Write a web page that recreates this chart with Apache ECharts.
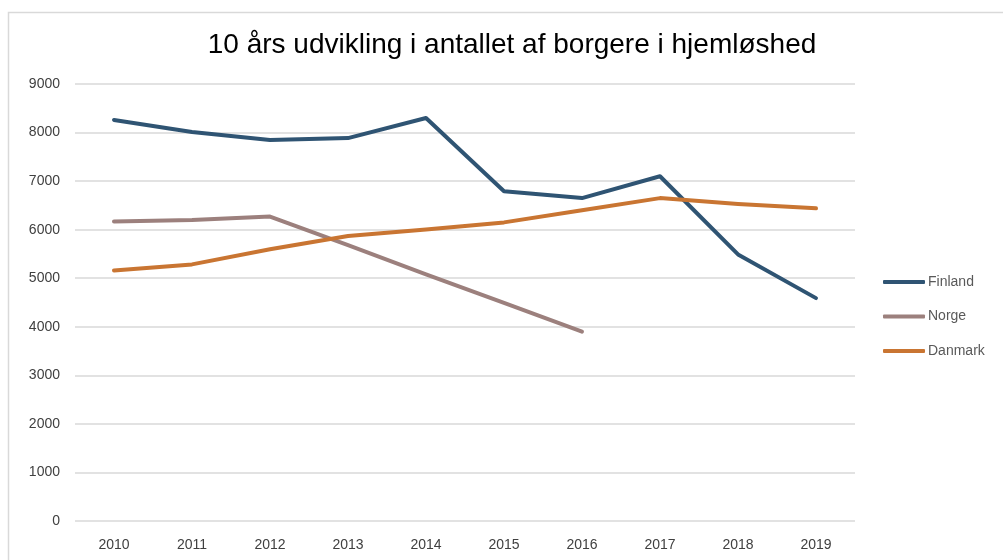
<!DOCTYPE html>
<html><head><meta charset="utf-8">
<script src="https://cdn.jsdelivr.net/npm/echarts@6/dist/echarts.min.js"></script>
<style>html,body{margin:0;padding:0;background:#fff}#c{width:1003px;height:560px}</style>
</head><body><div id="c"></div>
<script>
const titleText = '10 års udvikling i antallet af borgere i hjemløshed';
const years = ['2010','2011','2012','2013','2014','2015','2016','2017','2018','2019'];
const finland = [8260, 8010, 7845, 7886, 8300, 6790, 6650, 7100, 5490, 4590];
const norge   = [6170, 6200, 6270, 5680, 5080, 4490, 3900, null, null, null];
const danmark = [5160, 5285, 5595, 5870, 6005, 6150, 6400, 6650, 6530, 6440];
const yTicks = {min: 0, max: 9000, interval: 1000};

const chart = echarts.init(document.getElementById('c'), null, {renderer: 'canvas'});
const mk = (name, data, color) => ({
  name, type: 'line', data, symbol: 'none', smooth: false,
  lineStyle: {width: 4, color, cap: 'round', join: 'round'},
  itemStyle: {color}
});
chart.setOption({
  animation: false,
  backgroundColor: '#fff',
  graphic: [
    {type: 'rect', shape: {x: 8.5, y: 12.5, width: 1100, height: 600},
      style: {fill: 'none', stroke: '#d9d9d9', lineWidth: 1.5}, silent: true, z: -1},
    {type: 'text', x: 512, y: 45, style: {text: titleText, align: 'center', verticalAlign: 'middle',
      font: 'normal 28px "Liberation Sans", Arial, sans-serif', fill: '#000'}}
  ],
  grid: {left: 75, right: 148, top: 84, bottom: 39, containLabel: false},
  legend: {orient: 'vertical', left: 883, top: 275, padding: 0, itemWidth: 42, itemHeight: 4, itemGap: 20.5,
    icon: 'roundRect',
    textStyle: {fontFamily: 'Liberation Sans', fontSize: 14, color: '#595959', padding: [0,0,0,-2]},
    data: ['Finland','Norge','Danmark']},
  xAxis: {type: 'category', data: years, boundaryGap: true,
    axisLine: {show: false}, axisTick: {show: false},
    axisLabel: {fontFamily: 'Liberation Sans Narrow, Liberation Sans', fontSize: 14, color: '#404040', margin: 17}},
  yAxis: {type: 'value', min: yTicks.min, max: yTicks.max, interval: yTicks.interval,
    axisLine: {show: false}, axisTick: {show: false},
    splitLine: {lineStyle: {color: '#d9d9d9', width: 1.5}},
    axisLabel: {fontFamily: 'Liberation Sans', fontSize: 14, color: '#404040', margin: 15,
      formatter: v => String(v)}},
  series: [
    mk('Finland', finland, '#2f5473'),
    Object.assign(mk('Norge', norge, '#9c807d'), {connectNulls: false}),
    mk('Danmark', danmark, '#c97532')
  ]
});
</script></body></html>
